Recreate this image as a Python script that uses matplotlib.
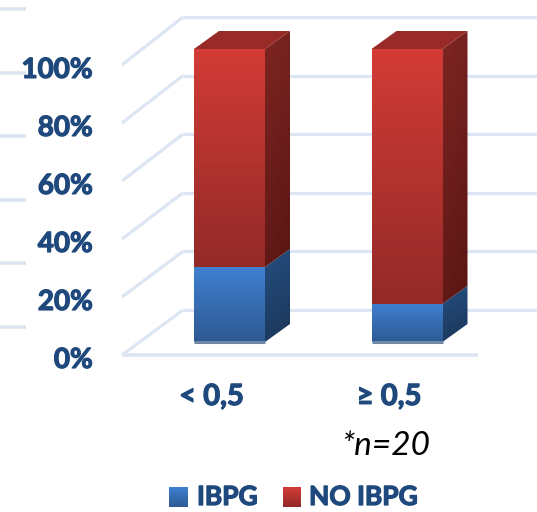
#! usr/bin/env python3

import numpy as np
import matplotlib
matplotlib.use("Agg")
import matplotlib.pyplot as plt
import matplotlib.patheffects as pe
from matplotlib.colors import LinearSegmentedColormap
from matplotlib.patches import Polygon

categories = ["< 0,5", "≥ 0,5"]
ibpg = [25.6, 13.0]
no_ibpg = [74.4, 87.0]
ticks = [0, 20, 40, 60, 80, 100]
tick_labels = ["0%", "20%", "40%", "60%", "80%", "100%"]
legend_labels = ["IBPG", "NO IBPG"]
note = "*n=20"

W, H = 537, 512
UNIT_X = 177.5        # pixels between categories
UNIT_Y = 2.93         # pixels per percent
X0_PX, Y0_PX = 229.5, 342

BAR_W = 0.40
DEPTH_X = 25 / UNIT_X
DEPTH_Y = 18 / UNIT_Y
LABEL_SHIFT = -18 / UNIT_X

TEXT_COLOR = "#1f497d"
GRID_COLOR = "#dce6f2"
FONT = ["Lato", "DejaVu Sans"]
# thickens the bold labels a little
HEAVY = [pe.withStroke(linewidth=0.9, foreground=TEXT_COLOR)]


def px(x, y):
    # pixel position on the canvas -> data position
    return (x - X0_PX) / UNIT_X, (Y0_PX - y) / UNIT_Y


def gradient(colors):
    return LinearSegmentedColormap.from_list("g", colors)


def fill_rect(ax, x0, x1, y0, y1, colors, z):
    # first colour at the top, second at the bottom
    grad = np.linspace(0, 1, 64).reshape(-1, 1)
    ax.imshow(grad, cmap=gradient(colors), extent=[x0, x1, y0, y1],
              aspect="auto", zorder=z, interpolation="bilinear",
              vmin=0, vmax=1)


def fill_side(ax, x, y0, y1, colors, z):
    # right-hand face of one segment, shaded on the diagonal
    pts = [(x, y0), (x + DEPTH_X, y0 + DEPTH_Y),
           (x + DEPTH_X, y1 + DEPTH_Y), (x, y1)]
    grad = np.linspace(0, 1, 64).reshape(-1, 1) * 0.8 \
        + np.linspace(0, 0.2, 16).reshape(1, -1)
    im = ax.imshow(grad, cmap=gradient(colors),
                   extent=[x, x + DEPTH_X, y0, y1 + DEPTH_Y],
                   aspect="auto", zorder=z, interpolation="bilinear",
                   vmin=0, vmax=1)
    patch = Polygon(pts, closed=True, transform=ax.transData,
                    fc="none", ec="none")
    ax.add_patch(patch)
    im.set_clip_path(patch)


fig = plt.figure(figsize=(W / 100, H / 100), dpi=100)
ax = fig.add_axes([0, 0, 1, 1])
ax.axis("off")

# Walls and floor of the 3D frame
wall_left, front_off = px(122, 355)
wall_back, back_off = px(183, 310)
wall_right = px(537, 0)[0]
floor_right = px(478, 0)[0]
for t in ticks:
    y_front = front_off + t * 0.99
    y_back = back_off + t
    ax.plot([wall_left, wall_back], [y_front, y_back], color=GRID_COLOR,
            lw=2.3, zorder=1, solid_capstyle="butt")
    ax.plot([wall_back, wall_right], [y_back, y_back], color=GRID_COLOR,
            lw=2.3, zorder=1, solid_capstyle="butt")
ax.plot([wall_left, floor_right], [front_off, front_off], color=GRID_COLOR,
        lw=2.6, zorder=1, solid_capstyle="butt")

# Short stubs of a second grid at the far left
stub_end = px(26, 0)[0]
stub_left = px(0, 0)[0]
stub_base = px(0, 327)[1]
for t in ticks:
    y = stub_base + t * 1.085
    ax.plot([stub_left, stub_end], [y, y], color=GRID_COLOR, lw=2.6,
            zorder=1, solid_capstyle="butt")

# Stacked bars
for i in range(len(categories)):
    x0 = i - BAR_W / 2
    x1 = i + BAR_W / 2
    blue_top = ibpg[i]
    red_top = ibpg[i] + no_ibpg[i]

    fill_side(ax, x1, 0, blue_top, ["#254f80", "#1a3558"], 3)
    fill_side(ax, x1, blue_top, red_top, ["#7e2522", "#5a1614"], 3)
    fill_rect(ax, x0, x1, 0, blue_top, ["#3f80d0", "#2e5a94"], 4)
    fill_rect(ax, x0, x1, blue_top, red_top, ["#d23b36", "#932a28"], 4)

    ax.add_patch(Polygon([(x0, red_top), (x1, red_top),
                          (x1 + DEPTH_X, red_top + DEPTH_Y),
                          (x0 + DEPTH_X, red_top + DEPTH_Y)],
                         closed=True, fc="#982a27", ec="none", zorder=4))
    # pale strip along the foot of the bar
    ax.plot([x0, x1], [0, 0], color="#6f88a8", lw=2.2, zorder=5,
            solid_capstyle="butt")

# Axis text
for t, lab in zip(ticks, tick_labels):
    ax.text(px(93, 0)[0], front_off + t * 0.99 - 1.7, lab, ha="right",
            va="center", fontsize=20, fontweight="bold", color=TEXT_COLOR,
            family=FONT, zorder=6, path_effects=HEAVY)
for i, lab in enumerate(categories):
    ax.text(i + LABEL_SHIFT, px(0, 397)[1], lab, ha="center",
            va="center", fontsize=21, fontweight="bold", color=TEXT_COLOR,
            family=FONT, zorder=6, path_effects=HEAVY)

nx, ny = px(386, 446)
ax.text(nx, ny, note, ha="center", va="center", fontsize=24, style="italic",
        color="black", family=FONT, zorder=6)

# Legend
swatches = [(169, 188, ["#3f80d0", "#2e5a94"]), (283, 301, ["#d23b36", "#932a28"])]
text_left = [197, 309]
for (sx0, sx1, cols), tx, lab in zip(swatches, text_left, legend_labels):
    xa, ya = px(sx0, 507)
    xb, yb = px(sx1, 487)
    fill_rect(ax, xa, xb, ya, yb, cols, 4)
    lx, ly = px(tx, 497)
    ax.text(lx, ly, lab, ha="left", va="center", fontsize=19,
            fontweight="bold", color=TEXT_COLOR, family=FONT, zorder=6,
            path_effects=HEAVY)

ax.set_xlim(px(0, 0)[0], px(W, 0)[0])
ax.set_ylim(px(0, H)[1], px(0, 0)[1])

fig.savefig("out.png", dpi=100)
